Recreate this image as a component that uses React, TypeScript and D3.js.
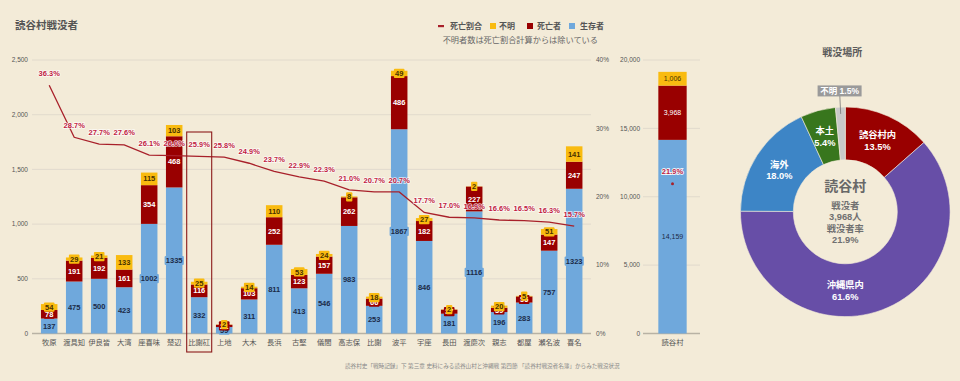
import React from "react";
import * as d3 from "d3";

const categories = ["牧原","渡具知","伊良皆","大湾","座喜味","楚辺","比謝矼","上地","大木","長浜","古堅","儀間","高志保","比謝","波平","宇座","長田","渡慶次","親志","都屋","瀬名波","喜名"];
const survivors = [137,475,500,423,1002,1335,332,59,311,811,413,546,983,253,1867,846,181,1116,196,283,757,1323];
const deaths = [78,191,192,161,354,468,116,21,103,252,123,157,262,66,486,182,37,227,39,56,147,247];
const unknown = [54,29,21,133,115,103,25,2,14,110,53,24,8,18,49,27,2,2,20,5,51,141];
const ratios = [36.3,28.7,27.7,27.6,26.1,26.0,25.9,25.8,24.9,23.7,22.9,22.3,21.0,20.7,20.7,17.7,17.0,16.9,16.6,16.5,16.3,15.7];

const leftTicks = [0,500,1000,1500,2000,2500];
const rightTicks = [0,10,20,30,40];
const totalTicks = [0,5000,10000,15000,20000];

const totalLabel = "読谷村";
const totalSurvivors = 14159;
const totalDeaths = 3968;
const totalUnknown = 1006;
const totalRatio = 21.9;

const placeLabels = ["読谷村内","沖縄県内","海外","本土","不明"];
const placeShares = [13.5,61.6,18.0,5.4,1.5];

const BG = "#f3ebd8";
const C_BLUE = "#6fa8dc";
const C_RED = "#990000";
const C_YEL = "#f9bb10";
const C_LINE = "#a8202a";
const C_PCT = "#c0203f";
const PIE_COLORS = ["#990000","#674ea7","#3d85c6","#38761d","#c9c9c9"];
const FONT = "'Liberation Sans', 'Noto Sans CJK JP', sans-serif";
const fmt = d3.format(",");

export default function App() {
  const x = d3.scaleBand<string>().domain(categories).range([36.7, 586.7]).paddingInner(0.34).paddingOuter(0.17);
  const bw = x.bandwidth();
  const y = d3.scaleLinear().domain([0, 2500]).range([333.5, 60]);
  const yr = d3.scaleLinear().domain([0, 40]).range([333.5, 60]);
  const ys = d3.scaleLinear().domain([0, 20000]).range([333.5, 60]);

  const rows = categories.map((c, i) => ({ c, s: survivors[i], d: deaths[i], u: unknown[i] }));
  const stack = d3.stack<any>().keys(["s", "d", "u"])(rows);
  const colors = [C_BLUE, C_RED, C_YEL];
  const labelColors = ["#1c2b48", "#ffffff", "#4a3200"];

  const cx = (c: string) => (x(c) as number) + bw / 2;
  const line = d3.line<number>().x((_, i) => cx(categories[i])).y((v) => yr(v));

  // summary bar
  const sx = d3.scaleBand<string>().domain([totalLabel]).range([655.5, 689.5]).paddingInner(0).paddingOuter(0.1);
  const sbw = sx.bandwidth();
  const sStack = d3.stack<any>().keys(["s", "d", "u"])([{ s: totalSurvivors, d: totalDeaths, u: totalUnknown }]);
  const scx = (sx(totalLabel) as number) + sbw / 2;

  // pie
  const pcx = 845.3, pcy = 211.8, rIn = 52, rOut = 104.8;
  const pie = d3.pie<number>().sort(null).value((d) => d)(placeShares);
  const arc = d3.arc<d3.PieArcDatum<number>>().innerRadius(rIn).outerRadius(rOut);
  const rl = (rIn + rOut) / 2;

  const labelBox = (txt: string, px: number, py: number, fill: string, color: string, key: string, weight = 700) => {
    const w = txt.length * 4.3 + 2;
    return (
      <g key={key}>
        <rect x={px - w / 2} y={py - 4.6} width={w} height={9.2} fill={fill} rx={1} />
        <text x={px} y={py} dy="0.35em" textAnchor="middle" fontSize={7.5} fontWeight={weight} fill={color}>{txt}</text>
      </g>
    );
  };

  return (
    <svg width={960} height={381} style={{ position: "absolute", left: 0, top: 0 }} fontFamily={FONT}>
      <rect width={960} height={381} fill={BG} />
      <text x={15} y={29} fontSize={10.5} fontWeight={700} fill="#555">読谷村戦没者</text>

      {/* legend */}
      <g fontSize={8} fontWeight={700} fill="#555">
        <rect x={438} y={25} width={6} height={2.2} fill={C_LINE} />
        <text x={450} y={29}>死亡割合</text>
        <rect x={490} y={23} width={6} height={6} fill={C_YEL} />
        <text x={499} y={29}>不明</text>
        <rect x={527} y={23} width={6} height={6} fill={C_RED} />
        <text x={537} y={29}>死亡者</text>
        <rect x={569} y={23} width={6} height={6} fill={C_BLUE} />
        <text x={580} y={29}>生存者</text>
      </g>
      <text x={598} y={43} textAnchor="end" fontSize={8.2} fill="#666">不明者数は死亡割合計算からは除いている</text>

      {/* gridlines and axes */}
      {leftTicks.map((t) => (
        <g key={"lt" + t}>
          <line x1={32} x2={591} y1={y(t)} y2={y(t)} stroke={t === 0 ? "#b8b2a4" : "#dcd6ca"} strokeWidth={t === 0 ? 1.4 : 0.8} />
          <text x={28} y={y(t)} dy="0.33em" textAnchor="end" fontSize={6.5} fill="#555">{fmt(t)}</text>
        </g>
      ))}
      {rightTicks.map((t) => (
        <text key={"rt" + t} x={596} y={yr(t)} dy="0.33em" fontSize={6.5} fill="#555">{t}%</text>
      ))}

      {/* bars */}
      {stack.map((layer, k) => (
        <g key={"layer" + k} fill={colors[k]}>
          {layer.map((seg, i) => (
            <rect key={i} x={x(categories[i])} width={bw} y={y(seg[1])} height={Math.max(0, y(seg[0]) - y(seg[1]))} />
          ))}
        </g>
      ))}
      {stack.map((layer, k) => (
        <g key={"lab" + k}>
          {layer.map((seg, i) => {
            const v = seg[1] - seg[0];
            const py = (y(seg[0]) + y(seg[1])) / 2;
            return labelBox(String(v), cx(categories[i]), py, colors[k], labelColors[k], "l" + k + "_" + i);
          })}
        </g>
      ))}

      {/* ratio line */}
      <path d={line(ratios) || ""} fill="none" stroke={C_LINE} strokeWidth={1.3} />
      {ratios.map((r, i) => (
        <text key={"pct" + i} x={cx(categories[i])} y={yr(r) - 12} dy="0.35em" textAnchor="middle" fontSize={7.5} fontWeight={700}
          fill={C_PCT} stroke="rgba(255,255,255,0.75)" strokeWidth={1.6} paintOrder="stroke">{r.toFixed(1)}%</text>
      ))}

      {/* x labels */}
      {categories.map((c) => (
        <text key={"xl" + c} x={cx(c)} y={342} dy="0.35em" textAnchor="middle" fontSize={7.3} fill="#555">{c}</text>
      ))}

      {/* highlight box */}
      <rect x={cx("比謝矼") - x.step() / 2} y={132} width={x.step()} height={220} fill="none" stroke="#8b1a1a" strokeWidth={1.1} />

      {/* summary chart */}
      {totalTicks.map((t) => (
        <g key={"st" + t}>
          <line x1={643} x2={700} y1={ys(t)} y2={ys(t)} stroke={t === 0 ? "#b8b2a4" : "#dcd6ca"} strokeWidth={t === 0 ? 1.4 : 0.8} />
          <text x={640} y={ys(t)} dy="0.33em" textAnchor="end" fontSize={6.5} fill="#555">{fmt(t)}</text>
        </g>
      ))}
      {sStack.map((layer, k) => (
        <g key={"sl" + k}>
          {layer.map((seg, i) => {
            const v = seg[1] - seg[0];
            return (
              <g key={i}>
                <rect x={sx(totalLabel)} width={sbw} y={ys(seg[1])} height={ys(seg[0]) - ys(seg[1])} fill={colors[k]} />
                <text x={scx} y={(ys(seg[0]) + ys(seg[1])) / 2} dy="0.35em" textAnchor="middle" fontSize={7}
                  fill={k === 1 ? "#fff" : labelColors[k]}>{fmt(v)}</text>
              </g>
            );
          })}
        </g>
      ))}
      <circle cx={scx} cy={yr(totalRatio)} r={1.5} fill={C_LINE} />
      <text x={scx} y={yr(totalRatio) - 12} dy="0.35em" textAnchor="middle" fontSize={7.5} fontWeight={700}
        fill={C_PCT} stroke="rgba(255,255,255,0.85)" strokeWidth={1.8} paintOrder="stroke">{totalRatio.toFixed(1)}%</text>
      <text x={scx} y={342} dy="0.35em" textAnchor="middle" fontSize={7.3} fill="#555">{totalLabel}</text>

      {/* pie */}
      <text x={pcx - 3} y={56} textAnchor="middle" fontSize={10} fontWeight={700} fill="#5a5a5a">戦没場所</text>
      <g transform={`translate(${pcx},${pcy})`}>
        {pie.map((p, i) => (
          <path key={"arc" + i} d={arc(p) || ""} fill={PIE_COLORS[i]} stroke={BG} strokeWidth={0.6} />
        ))}
        {pie.map((p, i) => {
          const span = p.endAngle - p.startAngle;
          const a = span > Math.PI ? Math.PI : (p.startAngle + p.endAngle) / 2;
          const sx0 = Math.sin(a), sy0 = -Math.cos(a);
          if (placeShares[i] < 3) {
            const bx = sx0 * 121, by = sy0 * 121;
            const txt = `${placeLabels[i]} ${placeShares[i].toFixed(1)}%`;
            const w = 44;
            return (
              <g key={"pl" + i}>
                <line x1={sx0 * 98} y1={sy0 * 98} x2={sx0 * 116} y2={sy0 * 116} stroke="#777" strokeWidth={0.8} />
                <rect x={bx - w / 2} y={by - 5.5} width={w} height={11} fill="#9a9a9a" />
                <text x={bx} y={by} dy="0.36em" textAnchor="middle" fontSize={8.5} fontWeight={700} fill="#fff">{txt}</text>
              </g>
            );
          }
          return (
            <text key={"pl" + i} x={sx0 * rl} y={sy0 * rl} textAnchor="middle" fontSize={9.3} fontWeight={700} fill="#fff">
              <tspan x={sx0 * rl} dy="-0.2em">{placeLabels[i]}</tspan>
              <tspan x={sx0 * rl} dy="1.25em">{placeShares[i].toFixed(1)}%</tspan>
            </text>
          );
        })}
        <text x={0} y={-21} textAnchor="middle" fontSize={14} fontWeight={700} fill="#686868">{totalLabel}</text>
        <g fontSize={9.3} fontWeight={700} fill="#707070" textAnchor="middle">
          <text x={0} y={-3}>戦没者</text>
          <text x={0} y={8.5}>{fmt(totalDeaths)}人</text>
          <text x={0} y={20}>戦没者率</text>
          <text x={0} y={31.5}>{totalRatio.toFixed(1)}%</text>
        </g>
      </g>

      <text x={345} y={368} fontSize={5.6} fill="#888">読谷村史「戦時記録」下 第三章 史料にみる読谷山村と沖縄戦 第四節 「読谷村戦没者名簿」からみた戦没状況</text>
    </svg>
  );
}
